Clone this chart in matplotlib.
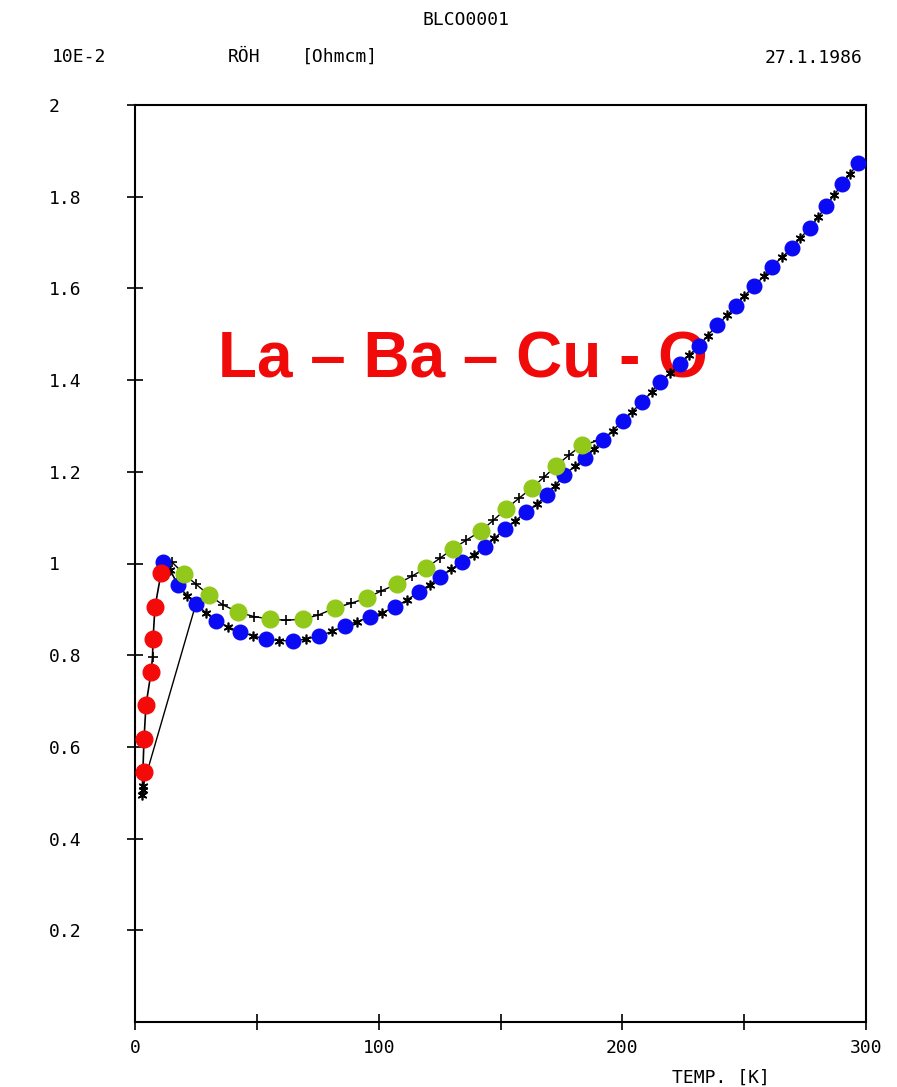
import matplotlib
matplotlib.use("Agg")
import matplotlib.pyplot as plt

# ---- data (T in K, R in 10E-2 Ohm cm) ----
blue_T = [11.5, 17.6, 25.0, 33.2, 43.1, 53.8, 64.8, 75.5, 86.2, 96.4, 106.7, 116.6,
          125.2, 134.2, 143.6, 151.8, 160.5, 169.1, 176.1, 184.7, 192.1, 200.3, 208.1,
          215.5, 223.7, 231.5, 238.9, 246.6, 254.0, 261.4, 269.6, 277.0, 283.6, 290.2, 296.7]
blue_R = [1.003, 0.953, 0.912, 0.875, 0.851, 0.835, 0.831, 0.842, 0.864, 0.883, 0.905, 0.938,
          0.971, 1.003, 1.036, 1.075, 1.112, 1.149, 1.193, 1.230, 1.269, 1.311, 1.352,
          1.396, 1.435, 1.474, 1.520, 1.562, 1.605, 1.647, 1.688, 1.732, 1.780, 1.828, 1.873]

green_T = [20.1, 30.4, 42.3, 55.4, 68.9, 82.1, 95.2, 107.5, 119.4, 130.5, 142.0, 152.3,
           162.9, 172.8, 183.4]
green_R = [0.977, 0.931, 0.894, 0.879, 0.879, 0.903, 0.925, 0.955, 0.990, 1.032, 1.071, 1.119,
           1.165, 1.213, 1.258]

red_T = [3.7, 3.7, 4.5, 6.6, 7.4, 8.2, 10.7]
red_R = [0.545, 0.617, 0.691, 0.763, 0.835, 0.905, 0.979]

# black star markers along the lower (blue) curve
star_T = [14.5, 21.3, 29.0, 38.0, 48.5, 59.0, 70.0, 81.0, 91.0, 101.5, 111.5, 121.0, 129.5,
          139.0, 147.5, 156.0, 165.0, 172.5, 180.5, 188.5, 196.0, 204.0, 212.0, 219.5,
          227.5, 235.0, 243.0, 250.0, 258.0, 265.5, 273.0, 280.5, 287.0, 293.5]
star_R = [0.985, 0.930, 0.893, 0.862, 0.842, 0.832, 0.835, 0.852, 0.873, 0.893, 0.920, 0.954,
          0.987, 1.019, 1.055, 1.093, 1.130, 1.170, 1.212, 1.250, 1.290, 1.331, 1.374, 1.415,
          1.455, 1.497, 1.541, 1.583, 1.626, 1.668, 1.710, 1.756, 1.804, 1.850]

# black plus markers along the upper (green) curve
plus_T = [15.0, 25.0, 36.0, 49.0, 62.0, 75.0, 88.5, 101.0, 113.5, 125.0, 136.0, 147.0,
          157.5, 168.0, 178.0, 190.0]
plus_R = [1.004, 0.955, 0.910, 0.884, 0.876, 0.887, 0.913, 0.940, 0.972, 1.011, 1.051, 1.094,
          1.142, 1.189, 1.236, 1.268]

# low temperature points
low_T = [2.9, 3.1, 3.3]
low_R = [0.495, 0.505, 0.515]
kink_T = [7.2]
kink_R = [0.796]

xticks_major = [0, 100, 200, 300]
xticks_minor = [50, 150, 250]
yticks = [0.2, 0.4, 0.6, 0.8, 1.0, 1.2, 1.4, 1.6, 1.8, 2.0]
ytick_labels = ["0.2", "0.4", "0.6", "0.8", "1", "1.2", "1.4", "1.6", "1.8", "2"]

mono = "DejaVu Sans Mono"

fig = plt.figure(figsize=(8.97, 10.87), dpi=100)
ax = fig.add_axes([135/897, 1-1022/1087, 731/897, 917/1087])

# ---- black measured curves ----
# lower curve: from 300 K down to ~25 K, then a jump to the lowest point
lc = sorted(zip(blue_T[2:] + star_T[2:], blue_R[2:] + star_R[2:]), reverse=True)
lcT = [p[0] for p in lc] + [low_T[2]]
lcR = [p[1] for p in lc] + [low_R[2]]
ax.plot(lcT, lcR, color="black", lw=1.0, zorder=2)

# low-T rise to the peak and down to 25 K
rc = [(low_T[0], low_R[0])] + list(zip(red_T[1:4], red_R[1:4])) + [(kink_T[0], kink_R[0])] \
     + list(zip(red_T[4:], red_R[4:])) + [(blue_T[0], blue_R[0]), (star_T[0], star_R[0]),
                                          (blue_T[1], blue_R[1]), (star_T[1], star_R[1]),
                                          (blue_T[2], blue_R[2])]
ax.plot([p[0] for p in rc], [p[1] for p in rc], color="black", lw=1.2, zorder=2)

# upper curve (green branch)
uc = sorted(zip(green_T + plus_T + [blue_T[0]], green_R + plus_R + [blue_R[0]]))
ax.plot([p[0] for p in uc], [p[1] for p in uc], color="black", lw=1.0, zorder=2)

ax.plot(star_T, star_R, ls="none", marker=(6, 2, 0), ms=7, mew=1.2, color="black", zorder=3)
ax.plot(plus_T, plus_R, ls="none", marker="+", ms=7, mew=1.2, color="black", zorder=3)
ax.plot(low_T, low_R, ls="none", marker=(6, 2, 0), ms=7, mew=1.2, color="black", zorder=3)
ax.plot(kink_T, kink_R, ls="none", marker="+", ms=7, mew=1.2, color="black", zorder=3)

# ---- coloured dots ----
ax.plot(blue_T, blue_R, ls="none", marker="o", ms=10.5, color="#0a0af5", mec="#0a0af5", zorder=4)
ax.plot(green_T, green_R, ls="none", marker="o", ms=12, color="#92c81a", mec="#92c81a", zorder=4)
ax.plot(red_T, red_R, ls="none", marker="o", ms=12, color="#f50a0a", mec="#f50a0a", zorder=5)

# ---- axes styling ----
ax.set_xlim(0, 300)
ax.set_ylim(0, 2.0)
for s in ax.spines.values():
    s.set_linewidth(1.5)
    s.set_color("black")

ax.set_xticks(xticks_major)
ax.set_xticks(xticks_minor, minor=True)
ax.set_xticklabels([str(v) for v in xticks_major], fontfamily=mono, fontsize=13)
ax.tick_params(axis="x", which="both", direction="inout", length=12, width=1.2, pad=6)

ax.set_yticks(yticks)
ax.set_yticklabels(ytick_labels, fontfamily=mono, fontsize=13)
ax.tick_params(axis="y", direction="inout", length=12, width=1.2, pad=56)
for lab in ax.get_yticklabels():
    lab.set_horizontalalignment("left")

# ---- texts ----
fig.text(466/897, 1-20/1087, "BLCO0001", fontfamily=mono, fontsize=13, ha="center", va="center")
fig.text(52/897, 1-57/1087, "10E-2", fontfamily=mono, fontsize=13, ha="left", va="center")
fig.text(228/897, 1-57/1087, "RÖH", fontfamily=mono, fontsize=13, ha="left", va="center")
fig.text(302/897, 1-57/1087, "[Ohmcm]", fontfamily=mono, fontsize=13, ha="left", va="center")
fig.text(862/897, 1-58/1087, "27.1.1986", fontfamily=mono, fontsize=13, ha="right", va="center")
fig.text(721/897, 1-1078/1087, "TEMP. [K]", fontfamily=mono, fontsize=13, ha="center", va="center")

ax.text(218/897, 1-378/1087, "La – Ba – Cu - O", transform=fig.transFigure,
        fontfamily="Liberation Sans", fontweight="bold", fontsize=46, color="#f00a0a",
        ha="left", va="baseline", zorder=1)

fig.savefig("out.png", dpi=100)
